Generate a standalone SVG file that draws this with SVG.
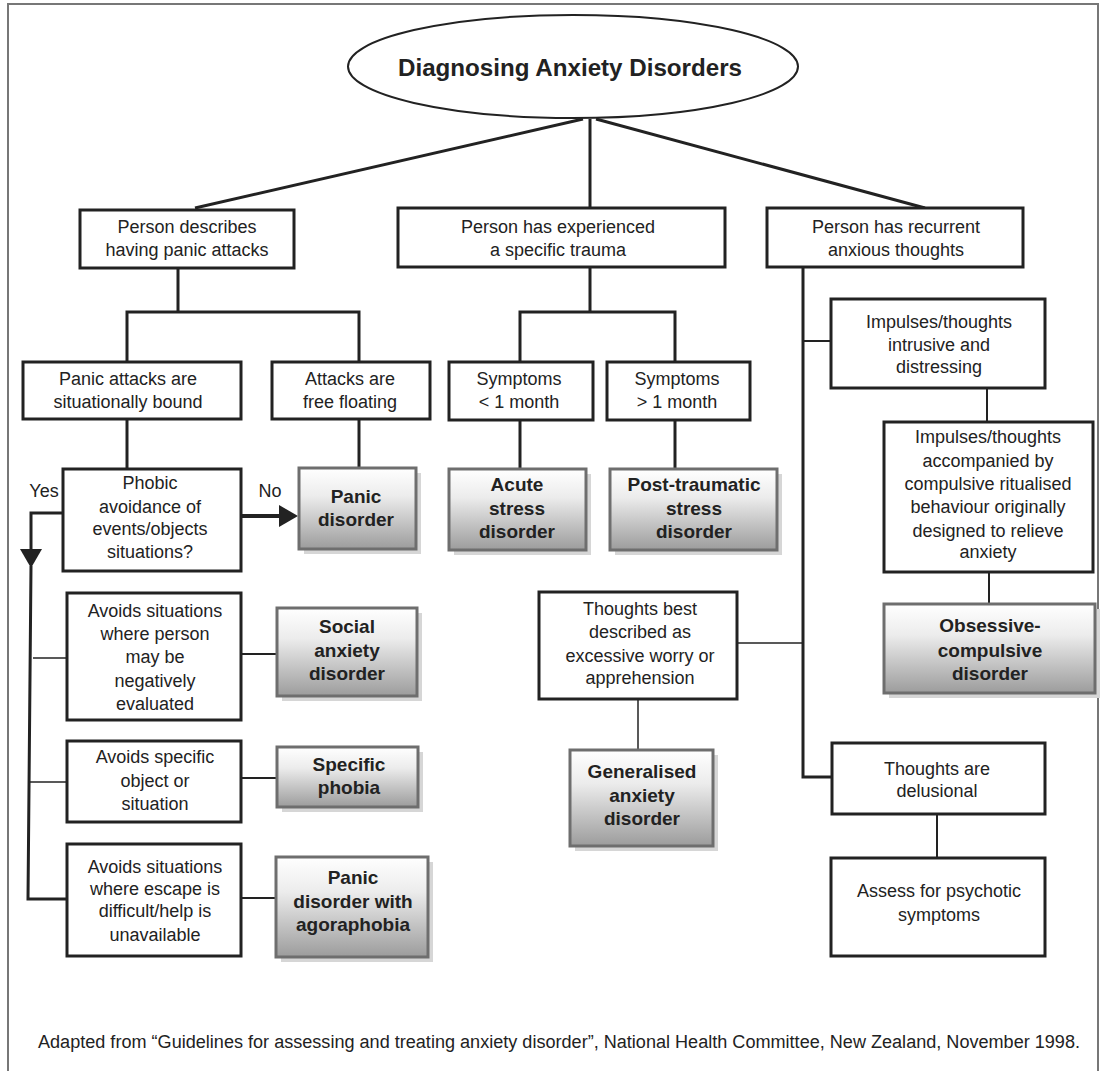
<svg xmlns="http://www.w3.org/2000/svg" width="1102" height="1071" viewBox="0 0 1102 1071">
<style>
.box{fill:#fff;stroke:#222;stroke-width:3}
.gbox{fill:url(#grad);stroke:#6e6e6e;stroke-width:3}
.sh{fill:#d6d6d6}
text{font-family:"Liberation Sans",Arial,Helvetica,sans-serif;font-size:18px;fill:#222;text-anchor:middle}
.b{font-weight:bold;font-size:19px}
.c{fill:none;stroke:#222;stroke-linejoin:miter}
.w4{stroke-width:4}
.w3{stroke-width:3}
.w2{stroke-width:2}
.w1{stroke-width:1.5}
</style>
<defs>
<linearGradient id="grad" x1="0" y1="0" x2="0" y2="1">
<stop offset="0" stop-color="#ffffff"/>
<stop offset="0.35" stop-color="#ececec"/>
<stop offset="1" stop-color="#9c9c9c"/>
</linearGradient>
<marker id="ah" markerUnits="userSpaceOnUse" markerWidth="20" markerHeight="22" refX="0" refY="11" orient="auto" overflow="visible">
<path d="M0,0 L19,11 L0,22 z" fill="#222"/>
</marker>
</defs>
<rect x="0" y="0" width="1102" height="1071" fill="#fff"/>
<rect id="frame" x="8" y="4" width="1090" height="1085" fill="none" stroke="#777" stroke-width="2"/>

<g id="connectors">
<path class="c w3" d="M583,119 L195,208"/>
<path class="c w3" d="M590,119 L590,208"/>
<path class="c w3" d="M596,119 L925,208"/>
<path class="c w3" d="M178,268 V312 M127,362 V312 H359 V362"/>
<path class="c w3" d="M127,419 V469"/>
<path class="c w3" d="M359,419 V468"/>
<path class="c w3" d="M590,267 V312 M520,362 V312 H675 V362"/>
<path class="c w3" d="M520,420 V469"/>
<path class="c w3" d="M675,420 V469"/>
<path class="c w3" d="M803,267 V777 H832"/>
<path class="c w2" d="M803,341 H831"/>
<path class="c w2" d="M987,388 V422"/>
<path class="c w2" d="M989,572 V604"/>
<path class="c w1" d="M737,643 H803"/>
<path class="c w1" d="M638,699 V750"/>
<path class="c w2" d="M937,814 V858"/>
<path class="c w3" d="M63,513 H31 V549" marker-end="url(#ah)"/>
<path class="c w3" d="M31,566 L28,899 H67"/>
<path class="c w1" d="M33,658 H67"/>
<path class="c w1" d="M30,782 H67"/>
<path class="c w2" d="M241,654 H277"/>
<path class="c w2" d="M241,778 H277"/>
<path class="c w2" d="M241,898 H276"/>
<path class="c w4" d="M241,516 H279" marker-end="url(#ah)"/>
<text x="44" y="497">Yes</text>
<text x="270" y="497">No</text>
</g>

<g id="title">
<ellipse cx="573" cy="66.5" rx="225" ry="51.5" fill="#fff" stroke="#222" stroke-width="2"/>
<text x="570" y="76" class="b" style="font-size:23px" textLength="344" lengthAdjust="spacingAndGlyphs">Diagnosing Anxiety Disorders</text>
</g>

<g id="panic-attacks">
<rect class="box" x="80" y="210" width="214" height="58"/>
<text><tspan x="187" y="233">Person describes</tspan><tspan x="187" y="256">having panic attacks</tspan></text>
</g>
<g id="trauma">
<rect class="box" x="398" y="208" width="327" height="59"/>
<text><tspan x="558" y="233">Person has experienced</tspan><tspan x="558" y="256">a specific trauma</tspan></text>
</g>
<g id="recurrent">
<rect class="box" x="767" y="208" width="256" height="59"/>
<text><tspan x="896" y="233">Person has recurrent</tspan><tspan x="896" y="256">anxious thoughts</tspan></text>
</g>

<g id="situational">
<rect class="box" x="23" y="362" width="218" height="57"/>
<text><tspan x="128" y="385">Panic attacks are</tspan><tspan x="128" y="408">situationally bound</tspan></text>
</g>
<g id="free-floating">
<rect class="box" x="272" y="362" width="158" height="57"/>
<text><tspan x="350" y="385">Attacks are</tspan><tspan x="350" y="408">free floating</tspan></text>
</g>
<g id="lt-month">
<rect class="box" x="449" y="362" width="144" height="58"/>
<text><tspan x="519" y="385">Symptoms</tspan><tspan x="519" y="408">&lt; 1 month</tspan></text>
</g>
<g id="gt-month">
<rect class="box" x="607" y="362" width="143" height="58"/>
<text><tspan x="677" y="385">Symptoms</tspan><tspan x="677" y="408">&gt; 1 month</tspan></text>
</g>

<g id="phobic">
<rect class="box" x="63" y="469" width="178" height="102"/>
<text><tspan x="150" y="489">Phobic</tspan><tspan x="150" y="513">avoidance of</tspan><tspan x="150" y="535">events/objects</tspan><tspan x="150" y="558">situations?</tspan></text>
</g>
<g id="panic-disorder">
<rect class="sh" x="304" y="473" width="117" height="81"/>
<rect class="gbox" x="299" y="468" width="117" height="81"/>
<text class="b"><tspan x="356" y="503">Panic</tspan><tspan x="356" y="526">disorder</tspan></text>
</g>
<g id="acute">
<rect class="sh" x="454" y="474" width="137" height="81"/>
<rect class="gbox" x="449" y="469" width="137" height="81"/>
<text class="b"><tspan x="517" y="491">Acute</tspan><tspan x="517" y="515">stress</tspan><tspan x="517" y="538">disorder</tspan></text>
</g>
<g id="ptsd">
<rect class="sh" x="615" y="474" width="167" height="81"/>
<rect class="gbox" x="610" y="469" width="167" height="81"/>
<text class="b"><tspan x="694" y="491">Post-traumatic</tspan><tspan x="694" y="515">stress</tspan><tspan x="694" y="538">disorder</tspan></text>
</g>

<g id="intrusive">
<rect class="box" x="831" y="299" width="214" height="89"/>
<text><tspan x="939" y="328">Impulses/thoughts</tspan><tspan x="939" y="351">intrusive and</tspan><tspan x="939" y="373">distressing</tspan></text>
</g>
<g id="compulsive">
<rect class="box" x="884" y="422" width="209" height="150"/>
<text><tspan x="988" y="443">Impulses/thoughts</tspan><tspan x="988" y="467">accompanied by</tspan><tspan x="988" y="490">compulsive ritualised</tspan><tspan x="988" y="513">behaviour originally</tspan><tspan x="988" y="537">designed to relieve</tspan><tspan x="988" y="558">anxiety</tspan></text>
</g>
<g id="ocd">
<rect class="sh" x="889" y="609" width="211" height="89"/>
<rect class="gbox" x="884" y="604" width="211" height="89"/>
<text class="b"><tspan x="990" y="632">Obsessive-</tspan><tspan x="990" y="657">compulsive</tspan><tspan x="990" y="680">disorder</tspan></text>
</g>

<g id="worry">
<rect class="box" x="539" y="592" width="198" height="107"/>
<text><tspan x="640" y="615">Thoughts best</tspan><tspan x="640" y="638">described as</tspan><tspan x="640" y="662">excessive worry or</tspan><tspan x="640" y="684">apprehension</tspan></text>
</g>
<g id="gad">
<rect class="sh" x="575" y="755" width="143" height="96"/>
<rect class="gbox" x="570" y="750" width="143" height="96"/>
<text class="b"><tspan x="642" y="778">Generalised</tspan><tspan x="642" y="802">anxiety</tspan><tspan x="642" y="825">disorder</tspan></text>
</g>

<g id="delusional">
<rect class="box" x="832" y="743" width="213" height="71"/>
<text><tspan x="937" y="775">Thoughts are</tspan><tspan x="937" y="797">delusional</tspan></text>
</g>
<g id="psychotic">
<rect class="box" x="831" y="858" width="214" height="98"/>
<text><tspan x="939" y="897">Assess for psychotic</tspan><tspan x="939" y="921">symptoms</tspan></text>
</g>

<g id="negative-eval">
<rect class="box" x="67" y="593" width="174" height="127"/>
<text><tspan x="155" y="617">Avoids situations</tspan><tspan x="155" y="640">where person</tspan><tspan x="155" y="663">may be</tspan><tspan x="155" y="687">negatively</tspan><tspan x="155" y="710">evaluated</tspan></text>
</g>
<g id="social">
<rect class="sh" x="282" y="613" width="140" height="88"/>
<rect class="gbox" x="277" y="608" width="140" height="88"/>
<text class="b"><tspan x="347" y="633">Social</tspan><tspan x="347" y="657">anxiety</tspan><tspan x="347" y="680">disorder</tspan></text>
</g>
<g id="specific-object">
<rect class="box" x="67" y="741" width="174" height="81"/>
<text><tspan x="155" y="763">Avoids specific</tspan><tspan x="155" y="787">object or</tspan><tspan x="155" y="810">situation</tspan></text>
</g>
<g id="specific-phobia">
<rect class="sh" x="282" y="752" width="141" height="60"/>
<rect class="gbox" x="277" y="747" width="141" height="60"/>
<text class="b"><tspan x="349" y="771">Specific</tspan><tspan x="349" y="794">phobia</tspan></text>
</g>
<g id="escape">
<rect class="box" x="67" y="844" width="174" height="112"/>
<text><tspan x="155" y="873">Avoids situations</tspan><tspan x="155" y="895">where escape is</tspan><tspan x="155" y="917">difficult/help is</tspan><tspan x="155" y="941">unavailable</tspan></text>
</g>
<g id="agoraphobia">
<rect class="sh" x="281" y="862" width="152" height="100"/>
<rect class="gbox" x="276" y="857" width="152" height="100"/>
<text class="b"><tspan x="353" y="884">Panic</tspan><tspan x="353" y="908">disorder with</tspan><tspan x="353" y="931">agoraphobia</tspan></text>
</g>

<text id="footer" x="559" y="1048" style="font-size:18px" textLength="1042" lengthAdjust="spacingAndGlyphs">Adapted from “Guidelines for assessing and treating anxiety disorder”, National Health Committee, New Zealand, November 1998.</text>
</svg>
